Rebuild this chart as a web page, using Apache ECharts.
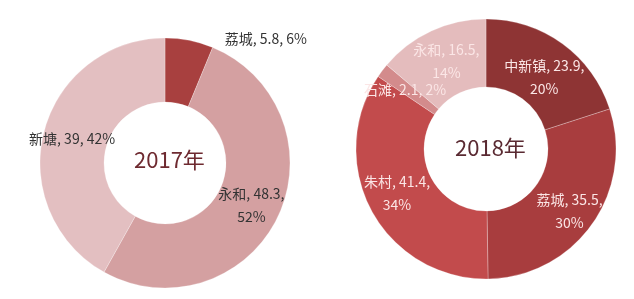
<!DOCTYPE html>
<html><head><meta charset="utf-8">
<script src="https://cdn.jsdelivr.net/npm/echarts@6/dist/echarts.min.js"></script>
<style>html,body{margin:0;padding:0;background:#fff;}#c{width:634px;height:299px;}</style>
</head><body><div id="c"></div>
<script>
const names2017 = ['荔城', '永和', '新塘'];
const values2017 = [5.8, 48.3, 39];
const pct2017 = [6, 52, 42];
const colors2017 = ['#a8403f', '#d4a0a1', '#e3bfc1'];
const names2018 = ['中新镇', '荔城', '朱村', '石滩', '永和'];
const values2018 = [23.9, 35.5, 41.4, 2.1, 16.5];
const pct2018 = [20, 30, 34, 2, 14];
const colors2018 = ['#8e3434', '#a83d3e', '#c24b4c', '#d38b8c', '#e4bcbd'];
const wrap2017 = [false, true, false];
const wrap2018 = [true, true, true, false, true];
const labelNudge2018 = [[0, 8], [3, 5], [-2, -3], [-2, 0], [2, 2]];

const font = '"Noto Sans CJK SC", "Noto Sans", sans-serif';
function fmt(wraps, pcts) {
  return p => {
    const pct = pcts[p.dataIndex] + '%';
    return wraps[p.dataIndex] ? p.name + ', ' + p.value + ',\n' + pct : p.name + ', ' + p.value + ', ' + pct;
  };
}
const data2017 = names2017.map((n, i) => {
  const d = { name: n, value: values2017[i], itemStyle: { color: colors2017[i] } };
  if (i === 0) {
    d.label = { position: 'outside' };
    d.labelLine = { show: false, length: 2, length2: 30 };
  }
  return d;
});
const data2018 = names2018.map((n, i) => ({
  name: n, value: values2018[i], itemStyle: { color: colors2018[i] },
  label: { offset: labelNudge2018[i] }
}));

const chart = echarts.init(document.getElementById('c'), null, { renderer: 'canvas' });
chart.setOption({
  animation: false,
  backgroundColor: '#fff',
  textStyle: { fontFamily: font },
  graphic: [
    { type: 'text', left: 134, top: 149, style: { text: '2017年', font: '22px ' + font, fill: '#6e2a30' } },
    { type: 'text', left: 455, top: 137, style: { text: '2018年', font: '22px ' + font, fill: '#5a2a32' } }
  ],
  series: [
    {
      type: 'pie', center: [165, 163], radius: [61, 125], startAngle: 90, clockwise: true,
      avoidLabelOverlap: false, minShowLabelAngle: 0, labelLayout: { hideOverlap: false },
      itemStyle: { borderColor: 'rgba(255,255,255,0.5)', borderWidth: 0.5 },
      label: { show: true, position: 'inside', formatter: fmt(wrap2017, pct2017), color: '#333', fontSize: 14, lineHeight: 23, fontFamily: font },
      labelLine: { show: false },
      emphasis: { disabled: true },
      data: data2017
    },
    {
      type: 'pie', center: [486, 149], radius: [62, 130], startAngle: 90, clockwise: true,
      avoidLabelOverlap: false, minShowLabelAngle: 0, labelLayout: { hideOverlap: false },
      itemStyle: { borderColor: 'rgba(255,255,255,0.5)', borderWidth: 0.5 },
      label: { show: true, position: 'inside', formatter: fmt(wrap2018, pct2018), color: '#fbe6e6', fontSize: 14, lineHeight: 23, fontFamily: font },
      labelLine: { show: false },
      emphasis: { disabled: true },
      data: data2018
    }
  ]
});
</script></body></html>
